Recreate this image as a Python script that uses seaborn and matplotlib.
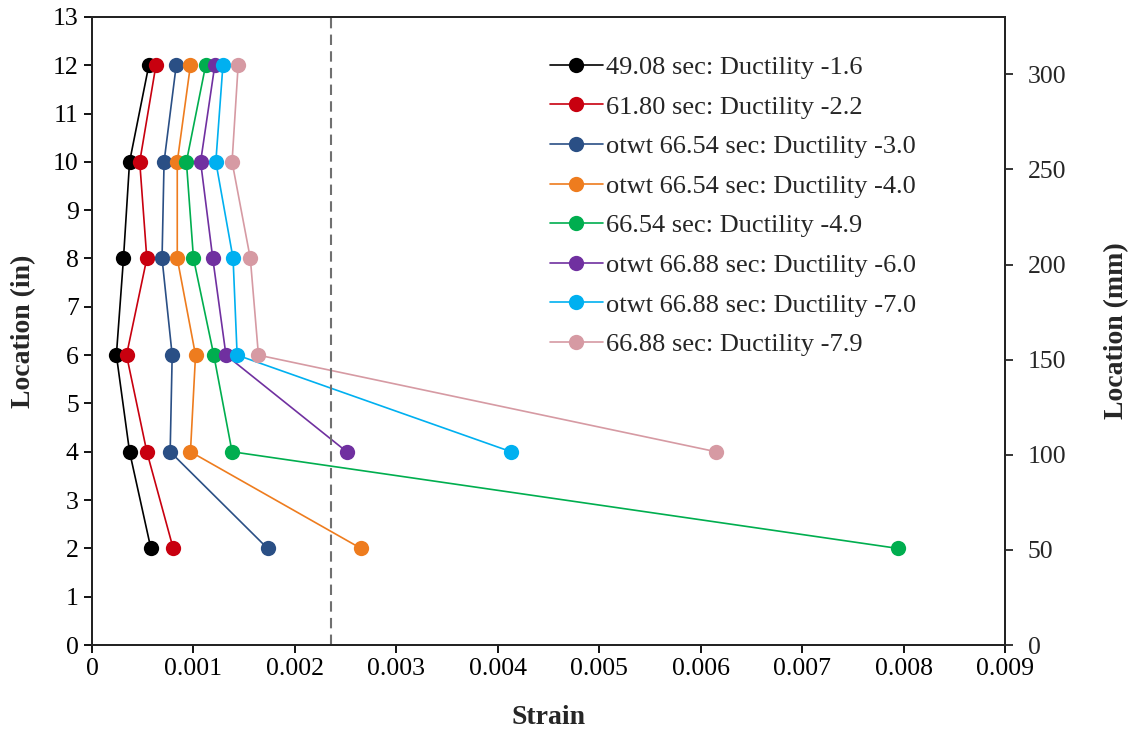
import numpy as np
import pandas as pd
import matplotlib
matplotlib.use("Agg")
import matplotlib.pyplot as plt
import seaborn as sns

# ---------------- DATA ----------------
labels = [
    "49.08 sec: Ductility -1.6",
    "61.80 sec: Ductility -2.2",
    "otwt 66.54 sec: Ductility -3.0",
    "otwt 66.54 sec: Ductility -4.0",
    "66.54 sec: Ductility -4.9",
    "otwt 66.88 sec: Ductility -6.0",
    "otwt 66.88 sec: Ductility -7.0",
    "66.88 sec: Ductility -7.9",
]
colors = ["#000000", "#C8000F", "#2A4F85", "#EE7C1E",
          "#00AE4F", "#7030A0", "#00B0F0", "#D69AA3"]

loc_full = [2, 4, 6, 8, 10, 12]
loc_short = [4, 6, 8, 10, 12]

strain_16 = [0.00058, 0.00037, 0.00024, 0.00031, 0.00037, 0.00056]
strain_22 = [0.00080, 0.00054, 0.00034, 0.00054, 0.00047, 0.00063]
strain_30 = [0.00173, 0.00077, 0.00079, 0.00069, 0.00071, 0.00083]
strain_40 = [0.00265, 0.00097, 0.00102, 0.00084, 0.00084, 0.00097]
strain_49 = [0.00794, 0.00138, 0.00120, 0.00100, 0.00093, 0.00112]
strain_60 = [0.00251, 0.00132, 0.00119, 0.00107, 0.00121]
strain_70 = [0.00413, 0.00143, 0.00139, 0.00122, 0.00129]
strain_79 = [0.00615, 0.00164, 0.00156, 0.00138, 0.00144]

yield_strain = 0.00235

strains = [strain_16, strain_22, strain_30, strain_40,
           strain_49, strain_60, strain_70, strain_79]

# ---------------- PLOT ----------------
sns.set_style("ticks")
plt.rcParams["font.family"] = ["Liberation Serif", "DejaVu Serif"]

fig, ax = plt.subplots(figsize=(11.36, 7.33), dpi=100)
fig.subplots_adjust(left=0.081, right=0.885, bottom=0.12, top=0.977)

for lab, col, s in zip(labels, colors, strains):
    locs = loc_full if len(s) == 6 else loc_short
    d = pd.DataFrame({"strain": s, "loc": locs})
    sns.lineplot(data=d, x="strain", y="loc", sort=False, orient="y",
                 estimator=None, ax=ax,
                 color=col, marker="o", markersize=11,
                 markeredgewidth=0, linewidth=1.2, label=lab)

ax.axvline(yield_strain, color="#707070", linestyle=(0, (5, 3)), linewidth=1.5)

ax.set_xlim(0, 0.009)
ax.set_ylim(0, 13)
ax.set_xticks(np.arange(0, 0.0091, 0.001))
ax.set_xticklabels(["0", "0.001", "0.002", "0.003", "0.004", "0.005",
                    "0.006", "0.007", "0.008", "0.009"])
ax.set_yticks(range(0, 14))
ax.tick_params(labelsize=18.5, direction="out", length=6, width=1.3, colors="black")
ax.set_xlabel("Strain", fontsize=20, fontweight="bold", labelpad=18)
ax.set_ylabel("Location (in)", fontsize=20, fontweight="bold", labelpad=12)
for sp in ax.spines.values():
    sp.set_linewidth(1.3)
    sp.set_color("black")

ax2 = ax.twinx()
ax2.set_ylim(0, 13 * 25.4)
ax2.set_yticks(range(0, 301, 50))
ax2.tick_params(labelsize=18.5, direction="out", length=6, width=1.3, pad=10)
ax2.set_ylabel("Location (mm)", fontsize=20, fontweight="bold", labelpad=27)
for sp in ax2.spines.values():
    sp.set_linewidth(1.3)

ax.legend(loc="upper left", bbox_to_anchor=(0.49, 0.955), frameon=False,
          fontsize=19, handlelength=2.0, handletextpad=0.12,
          labelspacing=0.61, borderaxespad=0)

fig.savefig("out.png", dpi=100)
